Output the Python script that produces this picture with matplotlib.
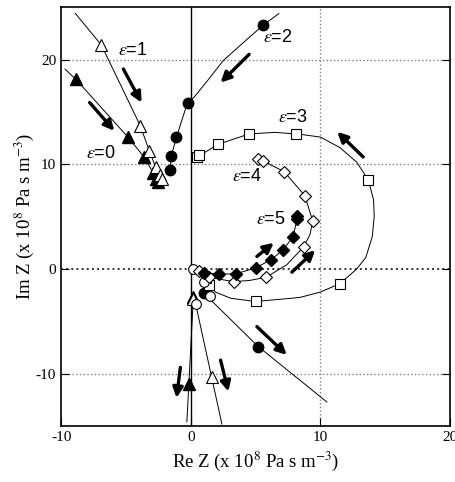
import matplotlib.pyplot as plt

plt.rcParams['mathtext.fontset'] = 'stix'
plt.rcParams['axes.unicode_minus'] = False

# eps=0 (filled triangles)
e0_x = [-8.85, -4.85, -3.6, -2.9, -2.7, -2.55]
e0_y = [18.1, 12.6, 10.7, 9.2, 8.6, 8.3]
e0_line_x = [-9.7, -8.85, -4.85, -3.6, -2.9, -2.55]
e0_line_y = [19.1, 18.1, 12.6, 10.7, 9.2, 8.3]
e0_low_x = [0.2, -0.1]
e0_low_y = [-2.7, -11.0]
e0_low_line_x = [0.2, -0.3]
e0_low_line_y = [-2.7, -14.6]

# eps=1 (open triangles)
e1_x = [-6.9, -3.9, -3.2, -2.7, -2.4, -2.2]
e1_y = [21.4, 13.7, 11.3, 9.7, 9.0, 8.6]
e1_line_x = [-8.9, -6.9, -3.9, -3.2, -2.7, -2.2]
e1_line_y = [24.4, 21.4, 13.7, 11.3, 9.7, 8.6]
e1_low_x = [0.2, 1.6]
e1_low_y = [-2.9, -10.3]
e1_low_line_x = [0.3, 2.4]
e1_low_line_y = [-2.9, -14.8]

# eps=2 (filled circles)
e2_x = [5.6, -0.25, -1.1, -1.5, -1.6]
e2_y = [23.3, 15.9, 12.6, 10.8, 9.5]
e2_line_x = [6.8, 5.6, 4.4, 2.5, 1.3, 0.25, -0.25, -1.1, -1.5, -1.6]
e2_line_y = [24.4, 23.3, 22.0, 19.9, 18.0, 16.4, 15.9, 12.6, 10.8, 9.5]
e2_low_x = [1.0, 5.2]
e2_low_y = [-2.3, -7.4]
e2_low_line_x = [1.0, 5.2, 10.5]
e2_low_line_y = [-2.3, -7.4, -12.7]

# eps=3 (open squares)
e3_x = [0.5, 0.6, 2.1, 4.5, 8.1, 13.7, 11.5, 5.0, 1.4, 1.2]
e3_y = [10.7, 10.9, 11.9, 12.9, 12.9, 8.5, -1.4, -3.1, -1.5, -0.9]
e3_line_x = [0.5, 2.1, 4.5, 6.5, 8.46, 10.0, 11.5, 12.8, 13.7, 14.1, 14.15, 14.0, 13.5, 12.8,
             11.5, 10.0, 8.46, 7.7, 5.0, 3.1, 1.9, 1.4]
e3_line_y = [10.7, 11.9, 12.9, 13.05, 12.86, 12.6, 11.6, 10.2, 8.5, 6.6, 5.0, 3.1, 1.1, 0.0,
             -1.4, -2.2, -2.7, -2.8, -3.1, -2.8, -2.2, -1.5]

# eps=4 (open diamonds)
e4_x = [5.2, 5.6, 7.2, 8.8, 9.4, 8.7, 5.8, 3.3, 1.4, 0.6]
e4_y = [10.5, 10.3, 9.3, 7.0, 4.6, 2.1, -0.8, -1.2, -0.8, -0.2]
e4_line_x = [5.2, 5.6, 7.2, 8.8, 9.4, 9.2, 8.7, 7.4, 5.8, 4.5, 3.3, 1.4, 0.6]
e4_line_y = [10.5, 10.3, 9.3, 7.0, 4.6, 3.3, 2.1, 0.4, -0.8, -1.1, -1.2, -0.8, -0.2]

# eps=5 (filled diamonds)
e5_x = [8.2, 8.2, 7.9, 7.1, 6.2, 5.0, 3.5, 2.2, 1.0]
e5_y = [5.1, 4.8, 3.1, 1.8, 0.9, 0.1, -0.45, -0.5, -0.35]

# open circles near the origin
oc_x = [0.2, 1.5, 0.4, 1.0]
oc_y = [0.0, -2.6, -3.3, -1.2]

# arrows (start x, start y, end x, end y)
arrows = [(-5.2, 19.1, -3.8, 15.9), (-7.8, 15.9, -5.9, 13.2), (4.5, 20.5, 2.3, 17.8),
          (13.3, 10.7, 11.3, 13.1), (7.8, -0.3, 9.6, 1.8), (5.1, 1.2, 6.4, 2.5),
          (5.1, -5.5, 7.4, -8.2), (2.3, -8.7, 2.9, -11.7), (-0.8, -9.4, -1.1, -12.3)]

labels = ['1', '0', '2', '3', '4', '5']
label_x = [-4.5, -6.9, 6.7, 7.9, 4.3, 6.2]
label_y = [20.9, 11.0, 22.1, 14.5, 8.8, 4.7]

fig = plt.figure(figsize=(4.56, 4.82), dpi=100)
ax = fig.add_axes([0.134, 0.116, 0.853, 0.869])

lw = 0.7
ax.plot(e0_line_x, e0_line_y, 'k-', lw=lw)
ax.plot(e0_low_line_x, e0_low_line_y, 'k-', lw=lw)
ax.plot(e1_line_x, e1_line_y, 'k-', lw=lw)
ax.plot(e1_low_line_x, e1_low_line_y, 'k-', lw=lw)
ax.plot(e2_line_x, e2_line_y, 'k-', lw=lw)
ax.plot(e2_low_line_x, e2_low_line_y, 'k-', lw=lw)
ax.plot(e3_line_x, e3_line_y, 'k-', lw=lw)
ax.plot(e4_line_x, e4_line_y, 'k-', lw=lw)
ax.plot(e5_x, e5_y, 'k-', lw=lw)

ax.plot(e0_x, e0_y, '^', color='k', ms=9, ls='none')
ax.plot(e0_low_x, e0_low_y, '^', color='k', ms=9, ls='none')
ax.plot(e1_x, e1_y, '^', mfc='white', mec='k', mew=0.8, ms=9, ls='none')
ax.plot(e1_low_x, e1_low_y, '^', mfc='white', mec='k', mew=0.8, ms=9, ls='none')
ax.plot(e2_x, e2_y, 'o', color='k', ms=7.5, ls='none')
ax.plot(e2_low_x, e2_low_y, 'o', color='k', ms=7.5, ls='none')
ax.plot(e3_x, e3_y, 's', mfc='white', mec='k', mew=0.8, ms=7, ls='none')
ax.plot(oc_x, oc_y, 'o', mfc='white', mec='k', mew=0.8, ms=7, ls='none')
ax.plot(e4_x, e4_y, 'D', mfc='white', mec='k', mew=0.8, ms=6, ls='none')
ax.plot(e5_x, e5_y, 'D', color='k', ms=6, ls='none')

for x0, y0, x1, y1 in arrows:
    ax.annotate('', xy=(x1, y1), xytext=(x0, y0),
                arrowprops=dict(arrowstyle='-|>', color='k', lw=2.4,
                                mutation_scale=15, shrinkA=0, shrinkB=0))

for t, x, y in zip(labels, label_x, label_y):
    ax.text(x, y, r'$\varepsilon$=' + t, fontsize=13, family='Liberation Sans',
            ha='center', va='center')

# grid
for g in [-10, 10, 20]:
    ax.axhline(g, color='gray', ls=':', lw=1.0, zorder=0)
ax.axhline(0, color='#333333', ls=':', lw=1.4, zorder=0)
ax.axvline(10, color='gray', ls=':', lw=1.0, zorder=0)
ax.axvline(0, color='k', lw=1.0, zorder=0)

ax.set_xlim(-10, 20)
ax.set_ylim(-15, 25)
ax.set_xticks([-10, 0, 10, 20])
ax.set_yticks([-10, 0, 10, 20])
ax.tick_params(direction='in', length=6, top=False, right=True, labelsize=11)
for lab in ax.get_xticklabels() + ax.get_yticklabels():
    lab.set_family('Liberation Serif')
for s in ax.spines.values():
    s.set_linewidth(1.2)

ax.set_xlabel('Re Z (x 10$^{8}$ Pa s m$^{-3}$)', family='Liberation Serif', fontsize=13.5)
ax.set_ylabel('Im Z (x 10$^{8}$ Pa s m$^{-3}$)', family='Liberation Serif', fontsize=13.5,
              labelpad=0)

fig.savefig('out.png', dpi=100)
